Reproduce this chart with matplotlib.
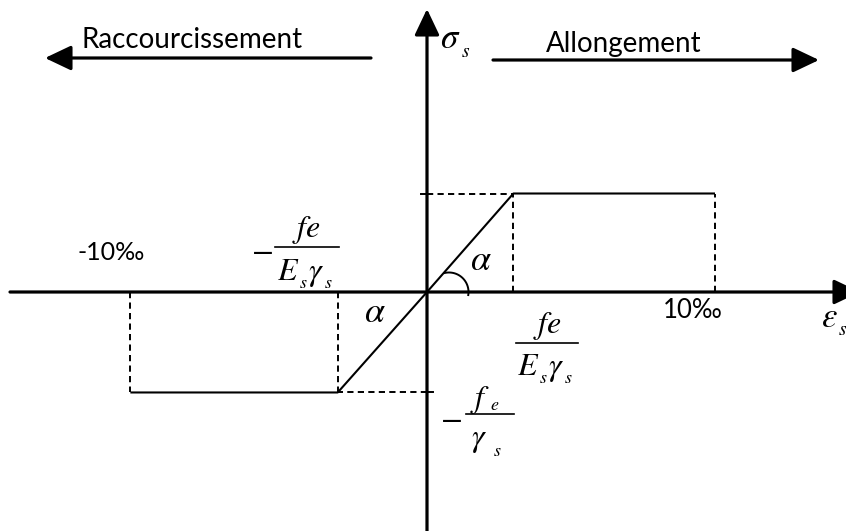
import numpy as np
import matplotlib
matplotlib.use("Agg")
import matplotlib.pyplot as plt

plt.rcParams["mathtext.fontset"] = "stix"
plt.rcParams["font.family"] = ["Lato", "DejaVu Sans"]

# Diagram values (strain in permil, stress in units of fe/gamma_s)
eps_yield = [-3.1, 3.0]      # -fe/(Es.gs), fe/(Es.gs)
eps_ult = [-10.3, 10.0]      # -10 permil, 10 permil
sig_yield = [-1.02, 1.0]     # -fe/gs, fe/gs
strain_labels = ["-10‰", "10‰"]
top_labels = ["Raccourcissement", "Allongement"]

# scale of the drawing (pixels per unit) and origin in pixels
sx, sy = 28.8, 98.5
ox, oy = 427, 292
W, H = 846, 531


def X(p):
    return (p - ox) / sx


def Y(p):
    return (oy - p) / sy


fig = plt.figure(figsize=(W / 100, H / 100), dpi=100)
ax = fig.add_axes([0, 0, 1, 1])
ax.set_xlim(X(0), X(W))
ax.set_ylim(Y(H), Y(0))
ax.axis("off")
renderer = fig.canvas.get_renderer()


def math_run(x, y, parts, fs, sub_drop=8, gap=0):
    # write italic letters one after the other, subscripts lowered like in Word
    for s, is_sub in parts:
        size = fs * 0.56 if is_sub else fs
        yy = y + sub_drop if is_sub else y
        t = ax.text(X(x), Y(yy), "$%s$" % s, fontsize=size, ha="left",
                    va="baseline")
        x = t.get_window_extent(renderer).x1 + gap
    return x


k = "black"
arrow = dict(arrowstyle="-|>,head_length=0.8,head_width=0.38", color=k,
             lw=2.3, shrinkA=0, shrinkB=0, mutation_scale=20)

# axes with arrows
ax.annotate("", xy=(X(860), 0), xytext=(X(10), 0), arrowprops=arrow,
            annotation_clip=False)
ax.annotate("", xy=(0, Y(9)), xytext=(0, Y(H + 5)), arrowprops=arrow,
            annotation_clip=False)

# stress-strain curve
for i in range(2):
    ax.plot([0, eps_yield[i], eps_ult[i]], [0, sig_yield[i], sig_yield[i]],
            color=k, lw=1.5, solid_capstyle="butt")
    dash = dict(color=k, lw=1.4, ls=(0, (3.2, 2.2)))
    ax.plot([eps_yield[i]] * 2, [0, sig_yield[i]], **dash)
    ax.plot([eps_ult[i]] * 2, [0, sig_yield[i]], **dash)
    ax.plot([0, eps_yield[i]], [sig_yield[i]] * 2, **dash)

# small ticks on the stress axis
ax.plot([X(421), 0], [sig_yield[1]] * 2, color=k, lw=1.4)
ax.plot([0, X(433)], [sig_yield[0]] * 2, color=k, lw=1.4)

# angle arc
t = np.radians(np.linspace(-9, 103, 60))
ax.plot(X(ox + 22 + 19.5 * np.cos(t)), Y(oy - 19.5 * np.sin(t)), color=k, lw=1.4)

# top arrows and words
ax.annotate("", xy=(X(45), Y(58)), xytext=(X(371), Y(58)), arrowprops=arrow)
ax.annotate("", xy=(X(819), Y(60)), xytext=(X(493), Y(60)), arrowprops=arrow)
ax.text(X(81), Y(48), top_labels[0], fontsize=20, ha="left", va="baseline")
ax.text(X(546), Y(52), top_labels[1], fontsize=20, ha="left", va="baseline")

# strain labels
ax.text(X(77), Y(260), strain_labels[0], fontsize=18, ha="left", va="baseline")
ax.text(X(663), Y(318), strain_labels[1], fontsize=18.5, ha="left", va="baseline")

# symbols
fs = 23
math_run(440, 48, [(r"\sigma", False), ("s", True)], 25, sub_drop=9, gap=1)
math_run(821, 327, [(r"\varepsilon", False), ("s", True)], 25, sub_drop=8)
ax.text(X(481), Y(259), r"$\alpha$", fontsize=26, ha="center", va="center")
ax.text(X(375), Y(312), r"$\alpha$", fontsize=26, ha="center", va="center")

den = [("E", False), ("s", True), (r"\gamma", False), ("s", True)]
frac_lw = 1.2

# -fe / (Es gs) on the left
ax.text(X(262), Y(247), "$-$", fontsize=fs, ha="center", va="center_baseline")
ax.plot([X(275), X(339)], [Y(247)] * 2, color=k, lw=frac_lw)
ax.text(X(306), Y(237), "$fe$", fontsize=fs, ha="center", va="baseline")
math_run(277, 280, den, fs, sub_drop=8)

# fe / (Es gs) below the axis
ax.plot([X(516), X(578)], [Y(343)] * 2, color=k, lw=frac_lw)
ax.text(X(547), Y(333), "$fe$", fontsize=fs, ha="center", va="baseline")
math_run(517, 375, den, fs, sub_drop=8)

# -fe / gs
ax.text(X(451), Y(415), "$-$", fontsize=fs, ha="center", va="center_baseline")
ax.plot([X(466), X(514)], [Y(414)] * 2, color=k, lw=frac_lw)
math_run(470, 407, [("f", False), ("e", True)], fs, sub_drop=3)
math_run(471, 446, [(r"\gamma", False), ("s", True)], fs, sub_drop=10, gap=6)

fig.savefig("out.png", dpi=100)
